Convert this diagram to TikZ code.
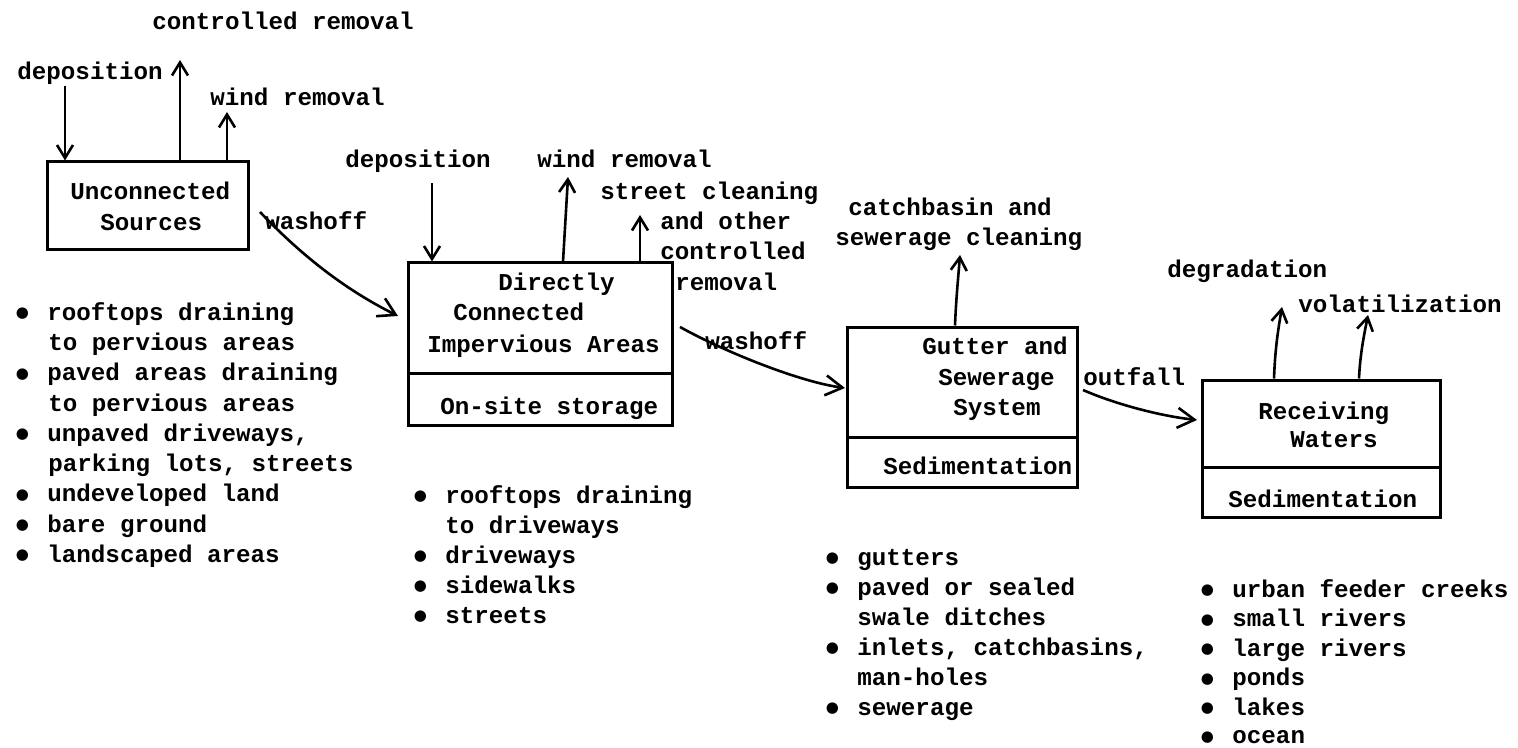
\documentclass[tikz,border=0pt]{standalone}
\usepackage{fontspec}
\newfontfamily\twfont{Liberation Mono}
\newfontfamily\bulfont{DejaVu Sans}
\usetikzlibrary{arrows.meta,fit}
\newcommand\mytt{\twfont\bfseries\fontsize{12.1}{15}\selectfont}
\newcommand\bul{\llap{\raisebox{1.3pt}{\makebox[0pt]{\bulfont\fontsize{7.5}{7.5}\selectfont ●}}\hspace{12.5pt}}}
\tikzset{
  lbl/.style={font=\mytt, anchor=west, inner sep=0pt, text height=7.2pt, text depth=0pt},
  box/.style={draw, line width=1.5pt, inner sep=0pt},
  arr/.style={line width=1.3pt, -{Straight Barb[length=6.5pt,width=8pt]}},
  bigarr/.style={line width=1.3pt, -{Straight Barb[length=8.5pt,width=10pt]}},
}
\begin{document}
\begin{tikzpicture}[x=0.5pt,y=-0.5pt]
\useasboundingbox (0,0) rectangle (1518,748);

% ---------- boxes ----------
\node[box, fit={(47,162) (248,250)}] (b1) {};
\node[box, fit={(408,263) (672,373)}] (b2) {};
\node[box, fit={(408,373) (672,425)}] (b2s) {};
\node[box, fit={(847,327) (1077,437)}] (b3) {};
\node[box, fit={(847,437) (1077,487)}] (b3s) {};
\node[box, fit={(1202,380) (1440,467)}] (b4) {};
\node[box, fit={(1202,467) (1440,517)}] (b4s) {};

% ---------- box texts ----------
\node[lbl] (t1a) at (70,192) {Unconnected};
\node[lbl] (t1b) at (100,223) {Sources};
\node[lbl] (t2a) at (498,283) {Directly};
\node[lbl] (t2b) at (453,313) {Connected};
\node[lbl] (t2c) at (427,345) {Impervious Areas};
\node[lbl] (t2d) at (440,407) {On-site storage};
\node[lbl] (t3a) at (922,347) {Gutter and};
\node[lbl] (t3b) at (938,378) {Sewerage};
\node[lbl] (t3c) at (953,408) {System};
\node[lbl] (t3d) at (883,467) {Sedimentation};
\node[lbl] (t4a) at (1258,412) {Receiving};
\node[lbl] (t4b) at (1290,440) {Waters};
\node[lbl] (t4c) at (1228,500) {Sedimentation};

% ---------- flow labels ----------
\node[lbl] (ctrl1) at (152,22) {controlled removal};
\node[lbl] (dep1) at (17,72) {deposition};
\node[lbl] (wind1) at (210,98) {wind removal};
\node[lbl] (wash1) at (265,222) {washoff};
\node[lbl] (dep2) at (345,160) {deposition};
\node[lbl] (wind2) at (537,160) {wind removal};
\node[lbl] (sc1) at (600,192) {street cleaning};
\node[lbl] (sc2) at (660,222) {and other};
\node[lbl] (sc3) at (660,252) {controlled};
\node[lbl] (sc4) at (675,283) {removal};
\node[lbl] (wash2) at (705,342) {washoff};
\node[lbl] (cb1) at (848,208) {catchbasin and};
\node[lbl] (cb2) at (835,238) {sewerage cleaning};
\node[lbl] (outf) at (1083,378) {outfall};
\node[lbl] (degr) at (1167,270) {degradation};
\node[lbl] (vola) at (1298,305) {volatilization};

% ---------- arrows ----------
\coordinate (d1) at (65,86);
\coordinate (cr1) at (180,60);
\coordinate (wr1) at (227,112);
\draw[arr] (d1) -- (d1 |- b1.north);
\draw[arr] (b1.north -| cr1) -- (cr1);
\draw[arr] (b1.north -| wr1) -- (wr1);

\coordinate (w1s) at (260,212);
\coordinate (w1e) at (398,316);
\draw[bigarr] (w1s) .. controls (305,259) and (348,291) .. (w1e);

\coordinate (d2) at (432,183);
\coordinate (wr2b) at (563,263);
\coordinate (wr2) at (568,177);
\coordinate (sc) at (640,215);
\draw[arr] (d2) -- (d2 |- b2.north);
\draw[arr] (b2.north -| wr2b) -- (wr2);
\draw[arr] (b2.north -| sc) -- (sc);

\coordinate (w2s) at (680,327);
\coordinate (w2e) at (845,388);
\draw[bigarr] (w2s) .. controls (725,352) and (800,382) .. (w2e);

\coordinate (cbb) at (955,327);
\coordinate (cbt) at (960,255);
\draw[arr] (b3.north -| cbb) .. controls (956,300) and (958,280) .. (cbt);

\coordinate (o1s) at (1083,390);
\coordinate (o1e) at (1197,420);
\draw[bigarr] (o1s) .. controls (1115,404) and (1160,416) .. (o1e);

\coordinate (dg) at (1282,307);
\coordinate (vl) at (1368,315);
\draw[arr] (b4.north -| 1274,0) .. controls (1275,350) and (1278,330) .. (dg);
\draw[arr] (b4.north -| 1359,0) .. controls (1360,355) and (1364,335) .. (vl);

% ---------- lists ----------
\node[lbl] (la1) at (47,313) {\bul rooftops draining};
\node[lbl] (la2) at (48,343) {to pervious areas};
\node[lbl] (la3) at (47,373.5) {\bul paved areas draining};
\node[lbl] (la4) at (48,404) {to pervious areas};
\node[lbl] (la5) at (47,434) {\bul unpaved driveways,};
\node[lbl] (la6) at (48,464) {parking lots, streets};
\node[lbl] (la7) at (47,494.5) {\bul undeveloped land};
\node[lbl] (la8) at (47,525) {\bul bare ground};
\node[lbl] (la9) at (47,555) {\bul landscaped areas};

\node[lbl] (lb1) at (445,496) {\bul rooftops draining};
\node[lbl] (lb2) at (445,526) {to driveways};
\node[lbl] (lb3) at (445,556) {\bul driveways};
\node[lbl] (lb4) at (445,586) {\bul sidewalks};
\node[lbl] (lb5) at (445,616) {\bul streets};

\node[lbl] (lc1) at (857,558) {\bul gutters};
\node[lbl] (lc2) at (857,588) {\bul paved or sealed};
\node[lbl] (lc3) at (857,618) {swale ditches};
\node[lbl] (lc4) at (857,648) {\bul inlets, catchbasins,};
\node[lbl] (lc5) at (857,678) {man-holes};
\node[lbl] (lc6) at (857,708) {\bul sewerage};

\node[lbl] (ld1) at (1232,590) {\bul urban feeder creeks};
\node[lbl] (ld2) at (1232,619.5) {\bul small rivers};
\node[lbl] (ld3) at (1232,649) {\bul large rivers};
\node[lbl] (ld4) at (1232,678.5) {\bul ponds};
\node[lbl] (ld5) at (1232,708) {\bul lakes};
\node[lbl] (ld6) at (1232,736.5) {\bul ocean};
\end{tikzpicture}
\end{document}
